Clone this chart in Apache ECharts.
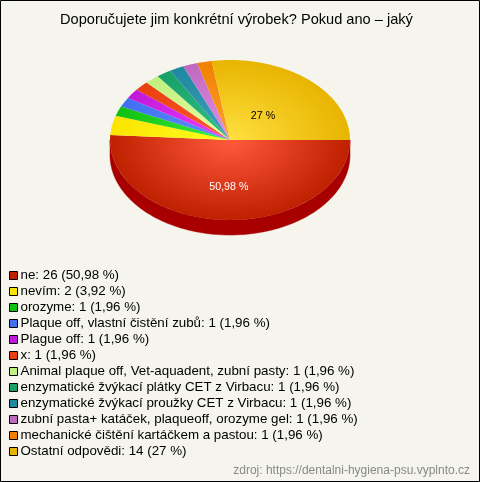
<!DOCTYPE html>
<html><head><meta charset="utf-8">
<style>html,body{margin:0;padding:0;background:#f5f5ee}#c{width:480px;height:482px}</style>
<script src="https://cdn.jsdelivr.net/npm/echarts@6/dist/echarts.min.js"></script>
</head><body><div id="c"></div>
<script>
const names = ['ne','nevím','orozyme','Plaque off, vlastní čistění zubů','Plague off','x','Animal plaque off, Vet-aquadent, zubní pasty','enzymatické žvýkací plátky CET z Virbacu','enzymatické žvýkací proužky CET z Virbacu','zubní pasta+ katáček, plaqueoff, orozyme gel','mechanické čištění kartáčkem a pastou','Ostatní odpovědi'];
const counts = [26,2,1,1,1,1,1,1,1,1,1,14];
const percents = ['50,98','3,92','1,96','1,96','1,96','1,96','1,96','1,96','1,96','1,96','1,96','27'];
const edgeColors = ['#bf2000','#fbe400','#10c010','#4070f0','#c018d8','#e84010','#c0f080','#18a068','#2088a0','#c068c0','#f08000','#e8b400'];
const innerColors = ['#ff5a3c','#ffff20','#40f040','#6090ff','#f040ff','#ff5a30','#e8ffa0','#30c088','#40a0c0','#e090e8','#ffa030','#ffe040'];
const sideColors = ['#a80000','#a8a000','#088008','#2040a0','#800890','#a02000','#80a050','#087048','#085870','#804080','#a05000','#a07800'];
const shownLabels = {0:['#fff',0.58],11:['#000',0.41]};

const total = counts.reduce((a,b)=>a+b,0);
const CX=230,CY=140,RX=120,RY=80,DEPTH=15;
const legendText = {};
names.forEach((n,i)=>legendText[n]=`${n}: ${counts[i]} (${percents[i]} %)`);

function sliceItem(i,order){
  const before = counts.slice(0,i).reduce((a,b)=>a+b,0);
  const a0 = before/total*2*Math.PI, a1=(before+counts[i])/total*2*Math.PI;
  const sy = RY/RX;
  const children=[];
  const s=Math.max(a0,0), e=Math.min(a1,Math.PI);
  if(order===0 && e>s){
    const top=[],bot=[];
    const n=Math.ceil((e-s)/0.02);
    for(let k=0;k<=n;k++){
      const t=s+(e-s)*k/n;
      const x=CX+RX*Math.cos(t),y=CY+RY*Math.sin(t);
      top.push([x,y]);bot.unshift([x,y+DEPTH]);
    }
    children.push({type:'polygon',shape:{points:top.concat(bot)},style:{fill:sideColors[i],stroke:sideColors[i],lineWidth:0.5}});
  }
  if(order===1){
    children.push({type:'group',x:CX,y:CY,scaleY:sy,children:[{
      type:'sector',
      shape:{cx:0,cy:0,r:RX,r0:0,startAngle:a0,endAngle:a1,clockwise:true},
      style:{fill:new echarts.graphic.RadialGradient(0,0,RX,[{offset:0,color:innerColors[i]},{offset:1,color:edgeColors[i]}],true)}
    }]});
    if(shownLabels[i]){
      const m=(a0+a1)/2,f=shownLabels[i][1];
      children.push({type:'text',style:{x:CX+1+RX*f*Math.cos(m),y:CY+1+RY*f*Math.sin(m),text:percents[i]+' %',fill:shownLabels[i][0],font:'10.67px "Liberation Sans",Arial,sans-serif',align:'center',verticalAlign:'middle'}});
    }
  }
  return {type:'group',children};
}
const series=[];
names.forEach((n,i)=>series.push({type:'custom',name:n,coordinateSystem:'none',z:2,data:[counts[i]],itemStyle:{color:edgeColors[i]},silent:true,animation:false,
  renderItem:()=>sliceItem(i,0)}));
names.forEach((n,i)=>series.push({type:'custom',name:n+' top',coordinateSystem:'none',z:3,data:[counts[i]],itemStyle:{color:edgeColors[i]},silent:true,animation:false,
  renderItem:()=>sliceItem(i,1)}));

const chart=echarts.init(document.getElementById('c'),null,{renderer:'canvas'});
chart.setOption({
  animation:false,
  backgroundColor:'#f5f5ee',
  title:{text:'Doporučujete jim konkrétní výrobek? Pokud ano – jaký',left:60,top:12,textStyle:{fontFamily:'"Liberation Sans",Arial,sans-serif',fontWeight:'normal',fontSize:14.6,color:'#000'},padding:0},
  legend:{data:names,orient:'vertical',left:9,top:269,itemWidth:8,itemHeight:8,itemGap:3,icon:'rect',selectedMode:false,padding:0,
    itemStyle:{borderColor:'#000',borderWidth:1},
    formatter:n=>legendText[n],
    textStyle:{fontFamily:'"Liberation Sans",Arial,sans-serif',fontSize:13.33,color:'#000',padding:[0,0,0,-2],lineHeight:13}},
  series,
  graphic:[
    {type:'text',right:10,top:465,style:{text:'zdroj: https://dentalni-hygiena-psu.vyplnto.cz',fill:'#888',font:'12px "Liberation Sans",Arial,sans-serif'}},
    {type:'rect',shape:{x:0.5,y:0.5,width:479,height:481},style:{fill:'none',stroke:'#000',lineWidth:1},z:10}
  ]
});
</script></body></html>
